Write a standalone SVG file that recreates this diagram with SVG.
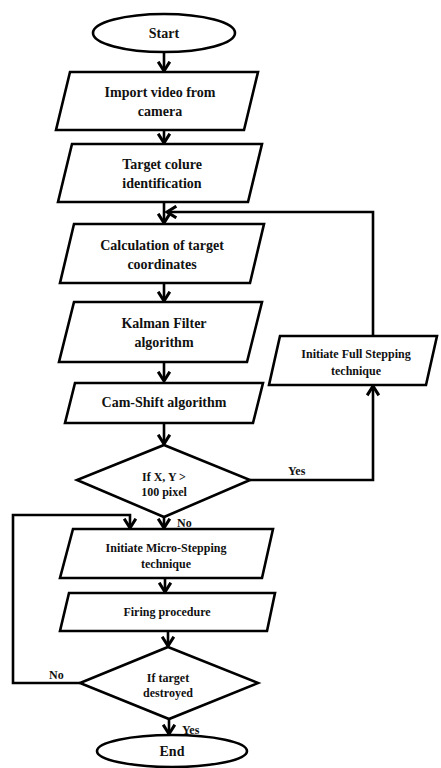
<svg xmlns="http://www.w3.org/2000/svg" width="441" height="768" viewBox="0 0 441 768">
<defs>
<style>
.s{fill:#fff;stroke:#000;stroke-width:2.6;stroke-linejoin:miter}
.c{fill:none;stroke:#000;stroke-width:2.6}
text{font-family:"Liberation Serif","Times New Roman","DejaVu Serif",serif;font-weight:bold;fill:#111}
.t{font-size:14px;text-anchor:middle}
.l{font-size:12px}
.m{font-size:12px;text-anchor:middle}
</style>
<marker id="a" markerUnits="userSpaceOnUse" markerWidth="14" markerHeight="14" refX="9" refY="6" orient="auto" viewBox="0 0 12 12">
<path d="M1,1 L9,6 L1,11" fill="none" stroke="#000" stroke-width="2.6"/>
</marker>
</defs>
<rect width="441" height="768" fill="#fff"/>
<g id="connectors">
<path class="c" d="M164,53 V71" marker-end="url(#a)"/>
<path class="c" d="M164,130 V143" marker-end="url(#a)"/>
<path class="c" d="M164,202 V223" marker-end="url(#a)"/>
<path class="c" d="M164,283 V301" marker-end="url(#a)"/>
<path class="c" d="M164,362 V381" marker-end="url(#a)"/>
<path class="c" d="M164,423 V444" marker-end="url(#a)"/>
<path class="c" d="M164,517 V528" marker-end="url(#a)"/>
<path class="c" d="M250,480 H373 V386" marker-end="url(#a)"/>
<path class="c" d="M373,336 V212 H167" marker-end="url(#a)"/>
<path class="c" d="M165,578 V592" marker-end="url(#a)"/>
<path class="c" d="M168,631 V646" marker-end="url(#a)"/>
<path class="c" d="M169,719 V734" marker-end="url(#a)"/>
<path class="c" d="M80,683 H13 V515 H130 V528" marker-end="url(#a)"/>
<text class="l" font-family="Liberation Serif, serif" x="288" y="475">Yes</text>
<text class="l" font-family="Liberation Serif, serif" x="177" y="527">No</text>
<text class="l" font-family="Liberation Serif, serif" x="49" y="679">No</text>
<text class="l" font-family="Liberation Serif, serif" x="182" y="734">Yes</text>
</g>
<g id="start">
<ellipse class="s" cx="164" cy="33" rx="71" ry="19"/>
<text class="t" font-family="Liberation Serif, serif" x="164" y="38">Start</text>
</g>
<g id="import">
<polygon class="s" points="70,72 258,72 244,130 56,130"/>
<text class="t" font-family="Liberation Serif, serif" x="160" y="97">Import video from</text>
<text class="t" font-family="Liberation Serif, serif" x="160" y="116">camera</text>
</g>
<g id="target">
<polygon class="s" points="72,144 262,144 248,202 58,202"/>
<text class="t" font-family="Liberation Serif, serif" x="162" y="169">Target colure</text>
<text class="t" font-family="Liberation Serif, serif" x="162" y="188">identification</text>
</g>
<g id="calc">
<polygon class="s" points="74,224 264,224 250,283 60,283"/>
<text class="t" font-family="Liberation Serif, serif" x="162" y="250">Calculation of target</text>
<text class="t" font-family="Liberation Serif, serif" x="162" y="269">coordinates</text>
</g>
<g id="kalman">
<polygon class="s" points="74,302 262,302 247,362 59,362"/>
<text class="t" font-family="Liberation Serif, serif" x="164" y="328">Kalman Filter</text>
<text class="t" font-family="Liberation Serif, serif" x="164" y="347">algorithm</text>
</g>
<g id="camshift">
<polygon class="s" points="75,383 263,383 253,423 65,423"/>
<text class="t" font-family="Liberation Serif, serif" x="164" y="407">Cam-Shift algorithm</text>
</g>
<g id="decision1">
<polygon class="s" points="164,445 250,480 164,517 77,480"/>
<text class="m" font-family="Liberation Serif, serif" x="164" y="481">If X, Y &gt;</text>
<text class="m" font-family="Liberation Serif, serif" x="164" y="496">100 pixel</text>
</g>
<g id="fullstep">
<polygon class="s" points="280,336 437,336 426,385 269,385"/>
<text class="m" font-family="Liberation Serif, serif" x="356" y="358">Initiate Full Stepping</text>
<text class="m" font-family="Liberation Serif, serif" x="356" y="375">technique</text>
</g>
<g id="micro">
<polygon class="s" points="73,529 273,529 262,578 60,578"/>
<text class="m" font-family="Liberation Serif, serif" x="166" y="552">Initiate Micro-Stepping</text>
<text class="m" font-family="Liberation Serif, serif" x="166" y="568">technique</text>
</g>
<g id="firing">
<polygon class="s" points="69,593 275,593 267,631 60,631"/>
<text class="m" font-family="Liberation Serif, serif" x="167" y="616">Firing procedure</text>
</g>
<g id="decision2">
<polygon class="s" points="168,647 258,683 169,719 80,683"/>
<text class="m" font-family="Liberation Serif, serif" x="168" y="682">If target</text>
<text class="m" font-family="Liberation Serif, serif" x="168" y="697">destroyed</text>
</g>
<g id="end">
<ellipse class="s" cx="172" cy="751" rx="75" ry="16"/>
<text class="t" font-family="Liberation Serif, serif" x="172" y="756">End</text>
</g>
</svg>
